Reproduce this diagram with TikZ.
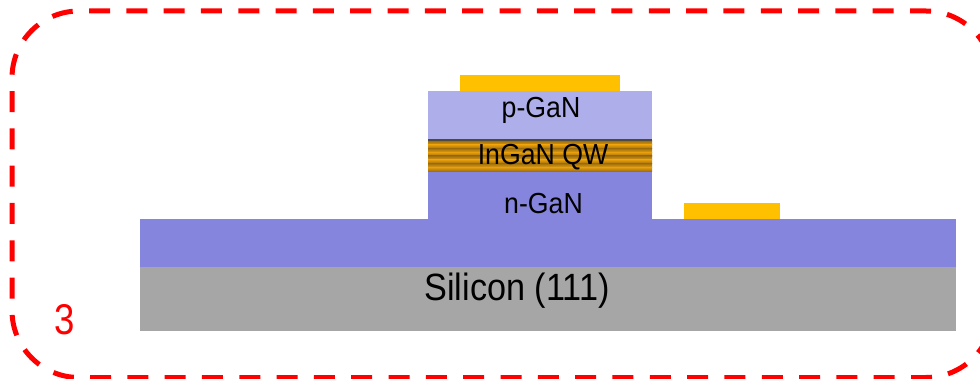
\documentclass[tikz,border=0pt]{standalone}
\usepackage{fontspec}
\setmainfont{Liberation Sans}
\definecolor{gold}{HTML}{FFC000}
\definecolor{pgan}{HTML}{AEAEEB}
\definecolor{ngan}{HTML}{8585DE}
\definecolor{sil}{HTML}{A6A6A6}
\definecolor{qwa}{HTML}{E59D0C}
\definecolor{qwb}{HTML}{A0700E}
\definecolor{qwc}{HTML}{4F4A3E}
\tikzset{
  x=1pt,y=-1pt,
  layer/.style={draw=none,inner sep=0pt,outer sep=0pt,text=black},
  frame/.style={draw=red,line width=5pt,rounded corners=67pt,dash pattern=on 21pt off 16.32pt},
}
\newcommand{\smalltext}[1]{\scalebox{0.92}[1]{\fontsize{29}{29}\selectfont #1}}
\newcommand{\bigtext}[1]{\scalebox{0.9}[1]{\fontsize{38}{38}\selectfont #1}}
\newcommand{\digittext}[1]{\scalebox{0.85}[1]{\fontsize{43}{43}\selectfont #1}}
\begin{document}
\begin{tikzpicture}
\useasboundingbox (0,0) rectangle (980,379);
\draw[frame] (89,11) -- (993,11) -- (993,200);
\draw[frame] (90,377.5) -- (993,377.5) -- (993,200);
\draw[frame,dash phase=21pt] (89,11) -- (12,11) -- (12,377.5) -- (90,377.5);
\fill[sil] (140,267) rectangle (956,331);
\fill[ngan] (140,219) rectangle (956,267);
\fill[ngan] (428,171) rectangle (652,219);
\fill[pgan] (428,91) rectangle (652,139);
\fill[gold] (460,75) rectangle (620,91);
\fill[gold] (684,203) rectangle (780,219);
\foreach \i in {0,...,3}{
  \shade[top color=qwb,bottom color=qwa] (428,141+7.5*\i) rectangle (652,144.85+7.5*\i);
  \shade[top color=qwa,bottom color=qwb] (428,144.75+7.5*\i) rectangle (652,148.6+7.5*\i);
}
\fill[qwc] (428,139) rectangle (652,141);
\node[layer] (p) at (541,110.5) {\smalltext{p-GaN}};
\node[layer] (q) at (543,157) {\smalltext{InGaN QW}};
\node[layer] (n) at (543.5,204) {\smalltext{n-GaN}};
\node[layer] (s) at (517,291) {\bigtext{Silicon (111)}};
\node[layer,text=red] (three) at (64.5,320) {\digittext{3}};
\end{tikzpicture}
\end{document}
